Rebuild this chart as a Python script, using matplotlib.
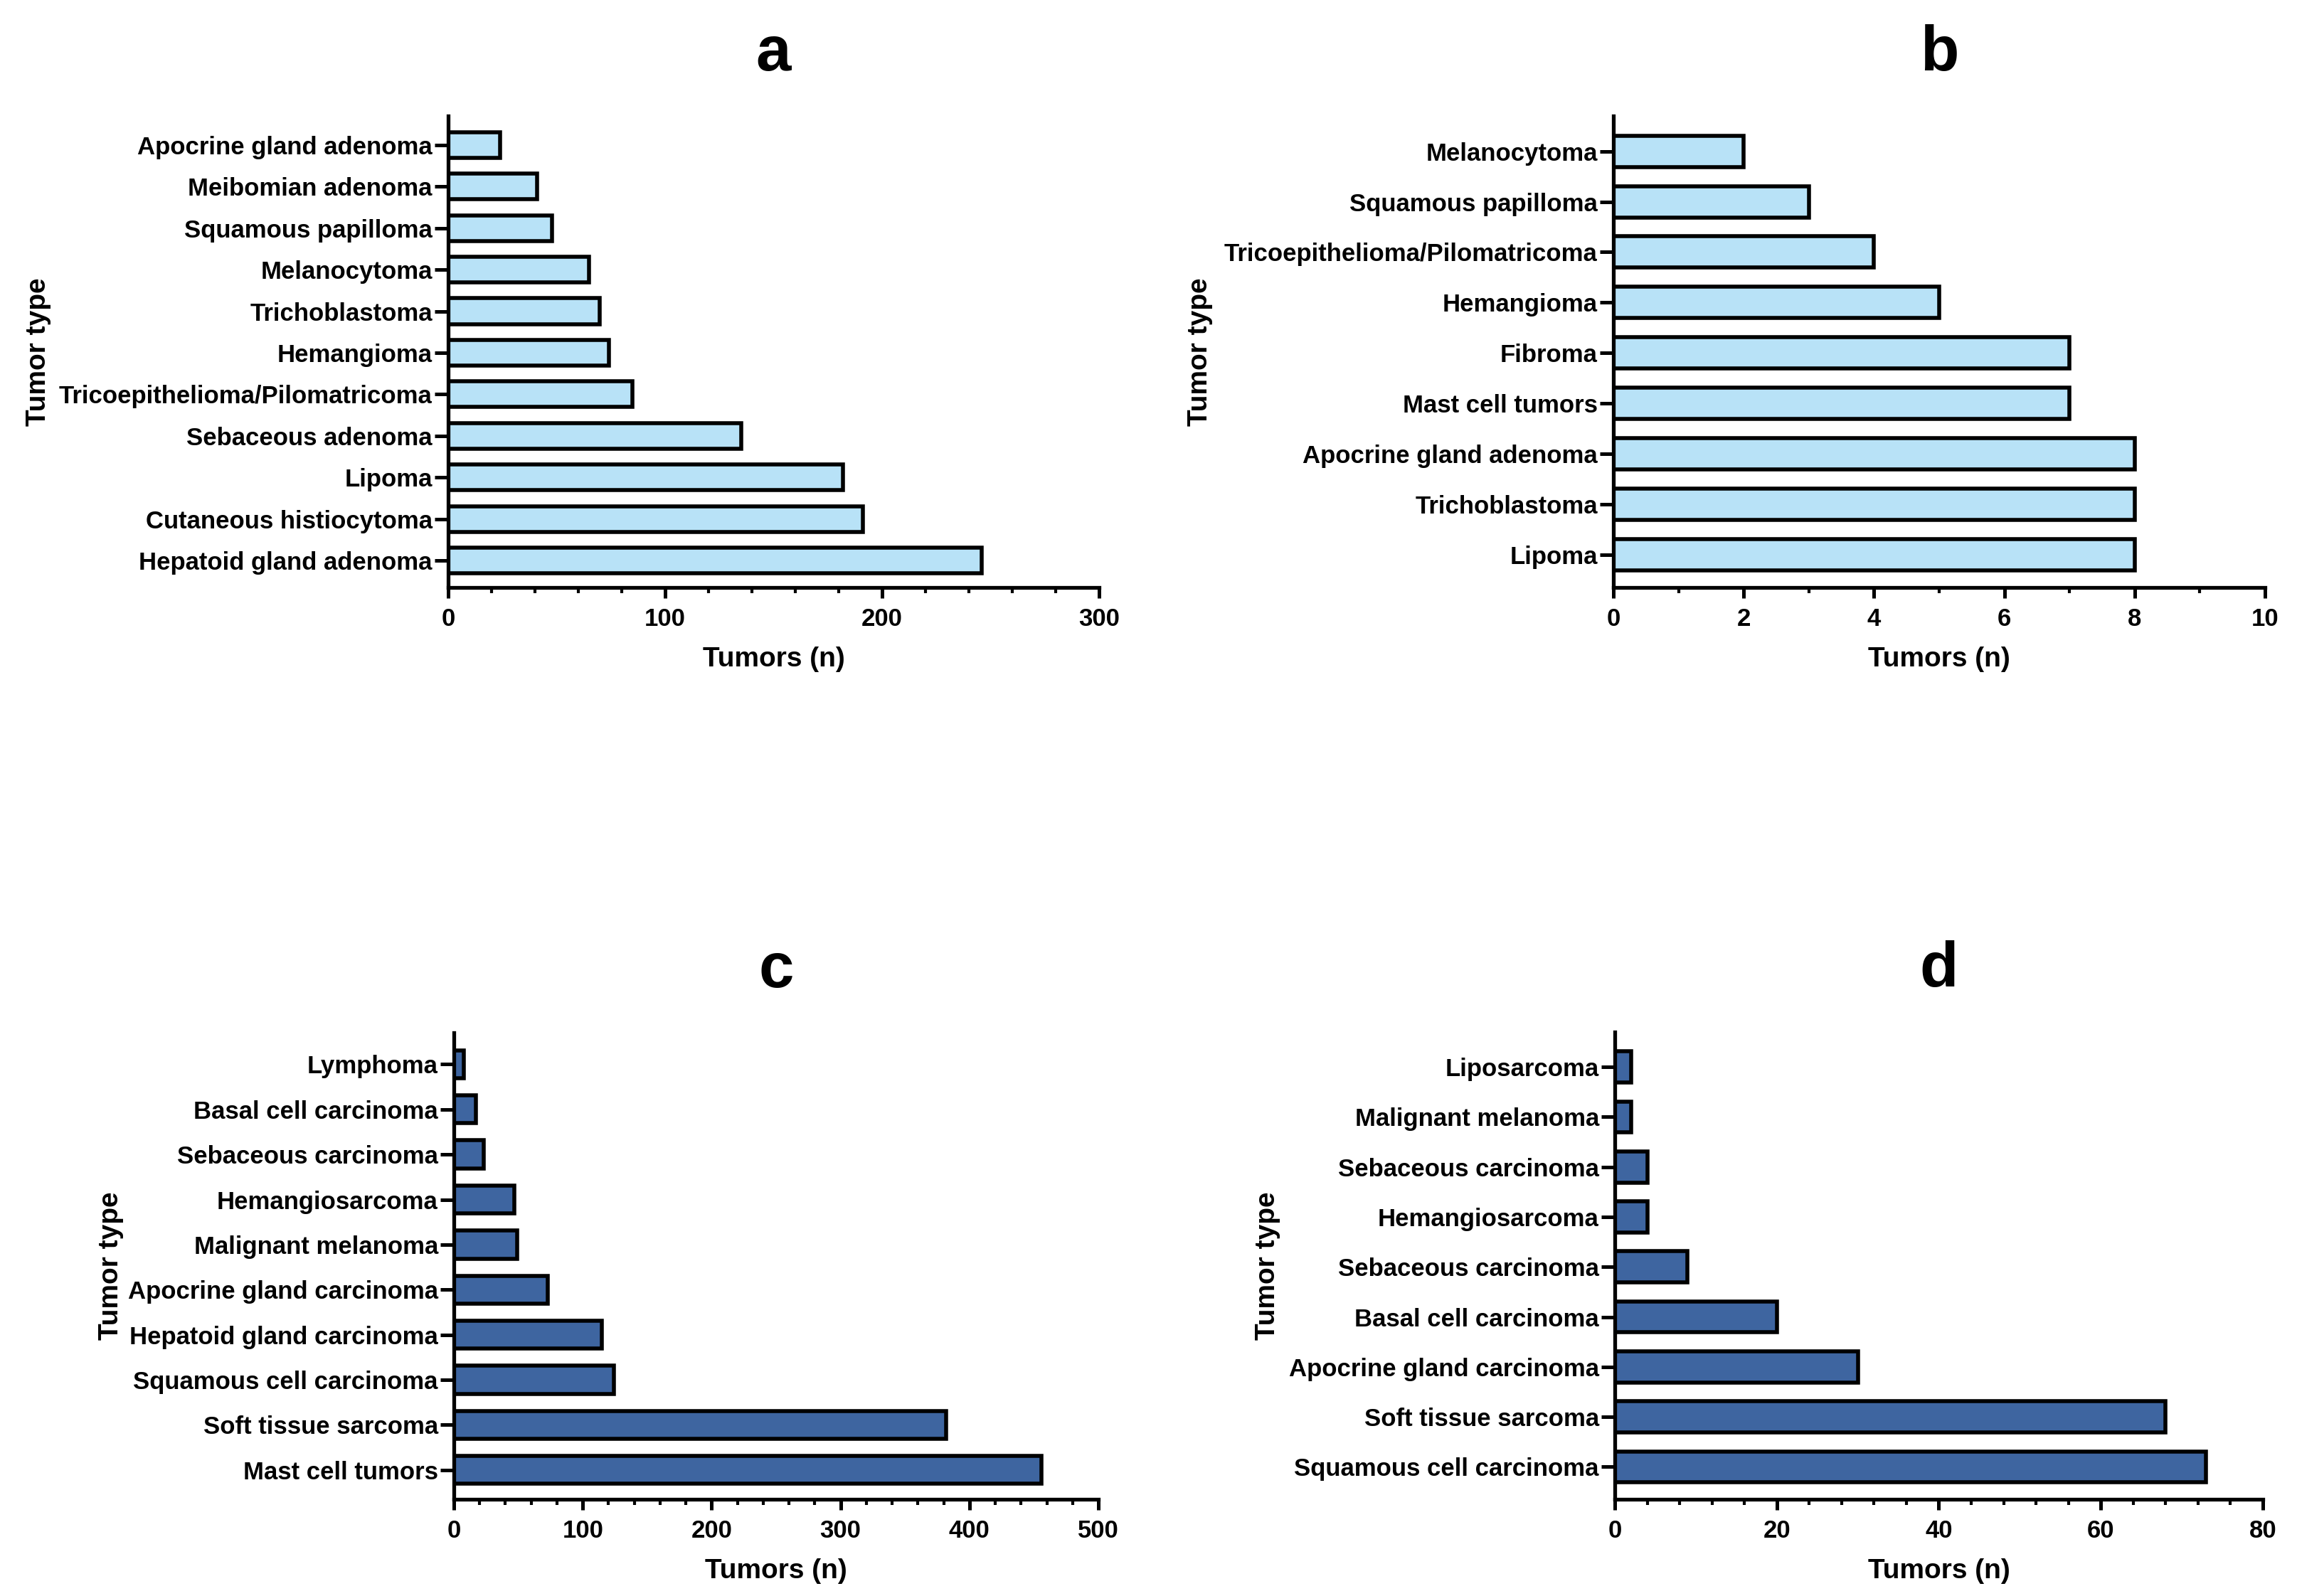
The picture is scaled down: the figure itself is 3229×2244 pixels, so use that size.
import matplotlib
matplotlib.use("Agg")
import matplotlib.pyplot as plt
import numpy as np
from matplotlib.ticker import MultipleLocator

plt.rcParams["font.family"] = ["Liberation Sans", "DejaVu Sans"]
plt.rcParams["font.weight"] = "bold"

# panel data, listed top to bottom as in the figure
a_types = ["Apocrine gland adenoma", "Meibomian adenoma", "Squamous papilloma",
           "Melanocytoma", "Trichoblastoma", "Hemangioma",
           "Tricoepithelioma/Pilomatricoma", "Sebaceous adenoma", "Lipoma",
           "Cutaneous histiocytoma", "Hepatoid gland adenoma"]
a_counts = [24, 41, 48, 65, 70, 74, 85, 135, 182, 191, 246]

b_types = ["Melanocytoma", "Squamous papilloma", "Tricoepithelioma/Pilomatricoma",
           "Hemangioma", "Fibroma", "Mast cell tumors", "Apocrine gland adenoma",
           "Trichoblastoma", "Lipoma"]
b_counts = [2, 3, 4, 5, 7, 7, 8, 8, 8]

c_types = ["Lymphoma", "Basal cell carcinoma", "Sebaceous carcinoma",
           "Hemangiosarcoma", "Malignant melanoma", "Apocrine gland carcinoma",
           "Hepatoid gland carcinoma", "Squamous cell carcinoma",
           "Soft tissue sarcoma", "Mast cell tumors"]
c_counts = [8, 17, 23, 47, 49, 73, 115, 124, 382, 456]

d_types = ["Liposarcoma", "Malignant melanoma", "Sebaceous carcinoma",
           "Hemangiosarcoma", "Sebaceous carcinoma", "Basal cell carcinoma",
           "Apocrine gland carcinoma", "Soft tissue sarcoma",
           "Squamous cell carcinoma"]
d_counts = [2, 2, 4, 4, 9, 20, 30, 68, 73]

LIGHT = "#B8E2F7"
DARK = "#3E65A0"

W, H = 3230, 2244
DPI = 200
fig = plt.figure(figsize=(W / DPI, H / DPI), dpi=DPI)


def px_axes(left, right, top, bottom):
    return fig.add_axes([left / W, 1 - bottom / H, (right - left) / W, (bottom - top) / H])


panels = [
    # title, types, counts, color, xmax, major, minor, box(px), ylabel x (axes frac)
    ("a", a_types, a_counts, LIGHT, 300, 100, 20, (630, 1545, 163, 826), -0.610),
    ("b", b_types, b_counts, LIGHT, 10, 2, 1, (2268, 3184, 163, 826), -0.615),
    ("c", c_types, c_counts, DARK, 500, 100, 20, (638, 1544, 1452, 2108), -0.512),
    ("d", d_types, d_counts, DARK, 80, 20, 4, (2270, 3181, 1451, 2108), -0.516),
]

for title, types, counts, color, xmax, major, minor, box, ylab_x in panels:
    ax = px_axes(*box)
    n = len(types)
    ypos = np.arange(n)[::-1]
    ax.barh(ypos, counts, height=0.62, color=color, edgecolor="black", linewidth=2.0)
    ax.set_yticks(ypos)
    ax.set_yticklabels(types)
    ax.set_ylim(-0.65, n - 1 + 0.7)
    ax.set_xlim(0, xmax)
    ax.xaxis.set_major_locator(MultipleLocator(major))
    ax.xaxis.set_minor_locator(MultipleLocator(minor))
    for s in ("top", "right"):
        ax.spines[s].set_visible(False)
    for s in ("left", "bottom"):
        ax.spines[s].set_linewidth(1.9)
    ax.tick_params(axis="y", length=7, width=1.8, pad=1, labelsize=12.5)
    ax.tick_params(axis="x", which="major", length=5.5, width=1.8, pad=4.5, labelsize=12.5)
    ax.tick_params(axis="x", which="minor", length=3, width=1.5)
    ax.set_xlabel("Tumors (n)", fontsize=14, fontweight="bold", labelpad=8)
    ax.set_ylabel("Tumor type", fontsize=14, fontweight="bold")
    ax.yaxis.set_label_coords(ylab_x, 0.5)
    ax.set_title(title, fontsize=32, fontweight="bold", pad=23)

fig.savefig("out.png", dpi=DPI)
